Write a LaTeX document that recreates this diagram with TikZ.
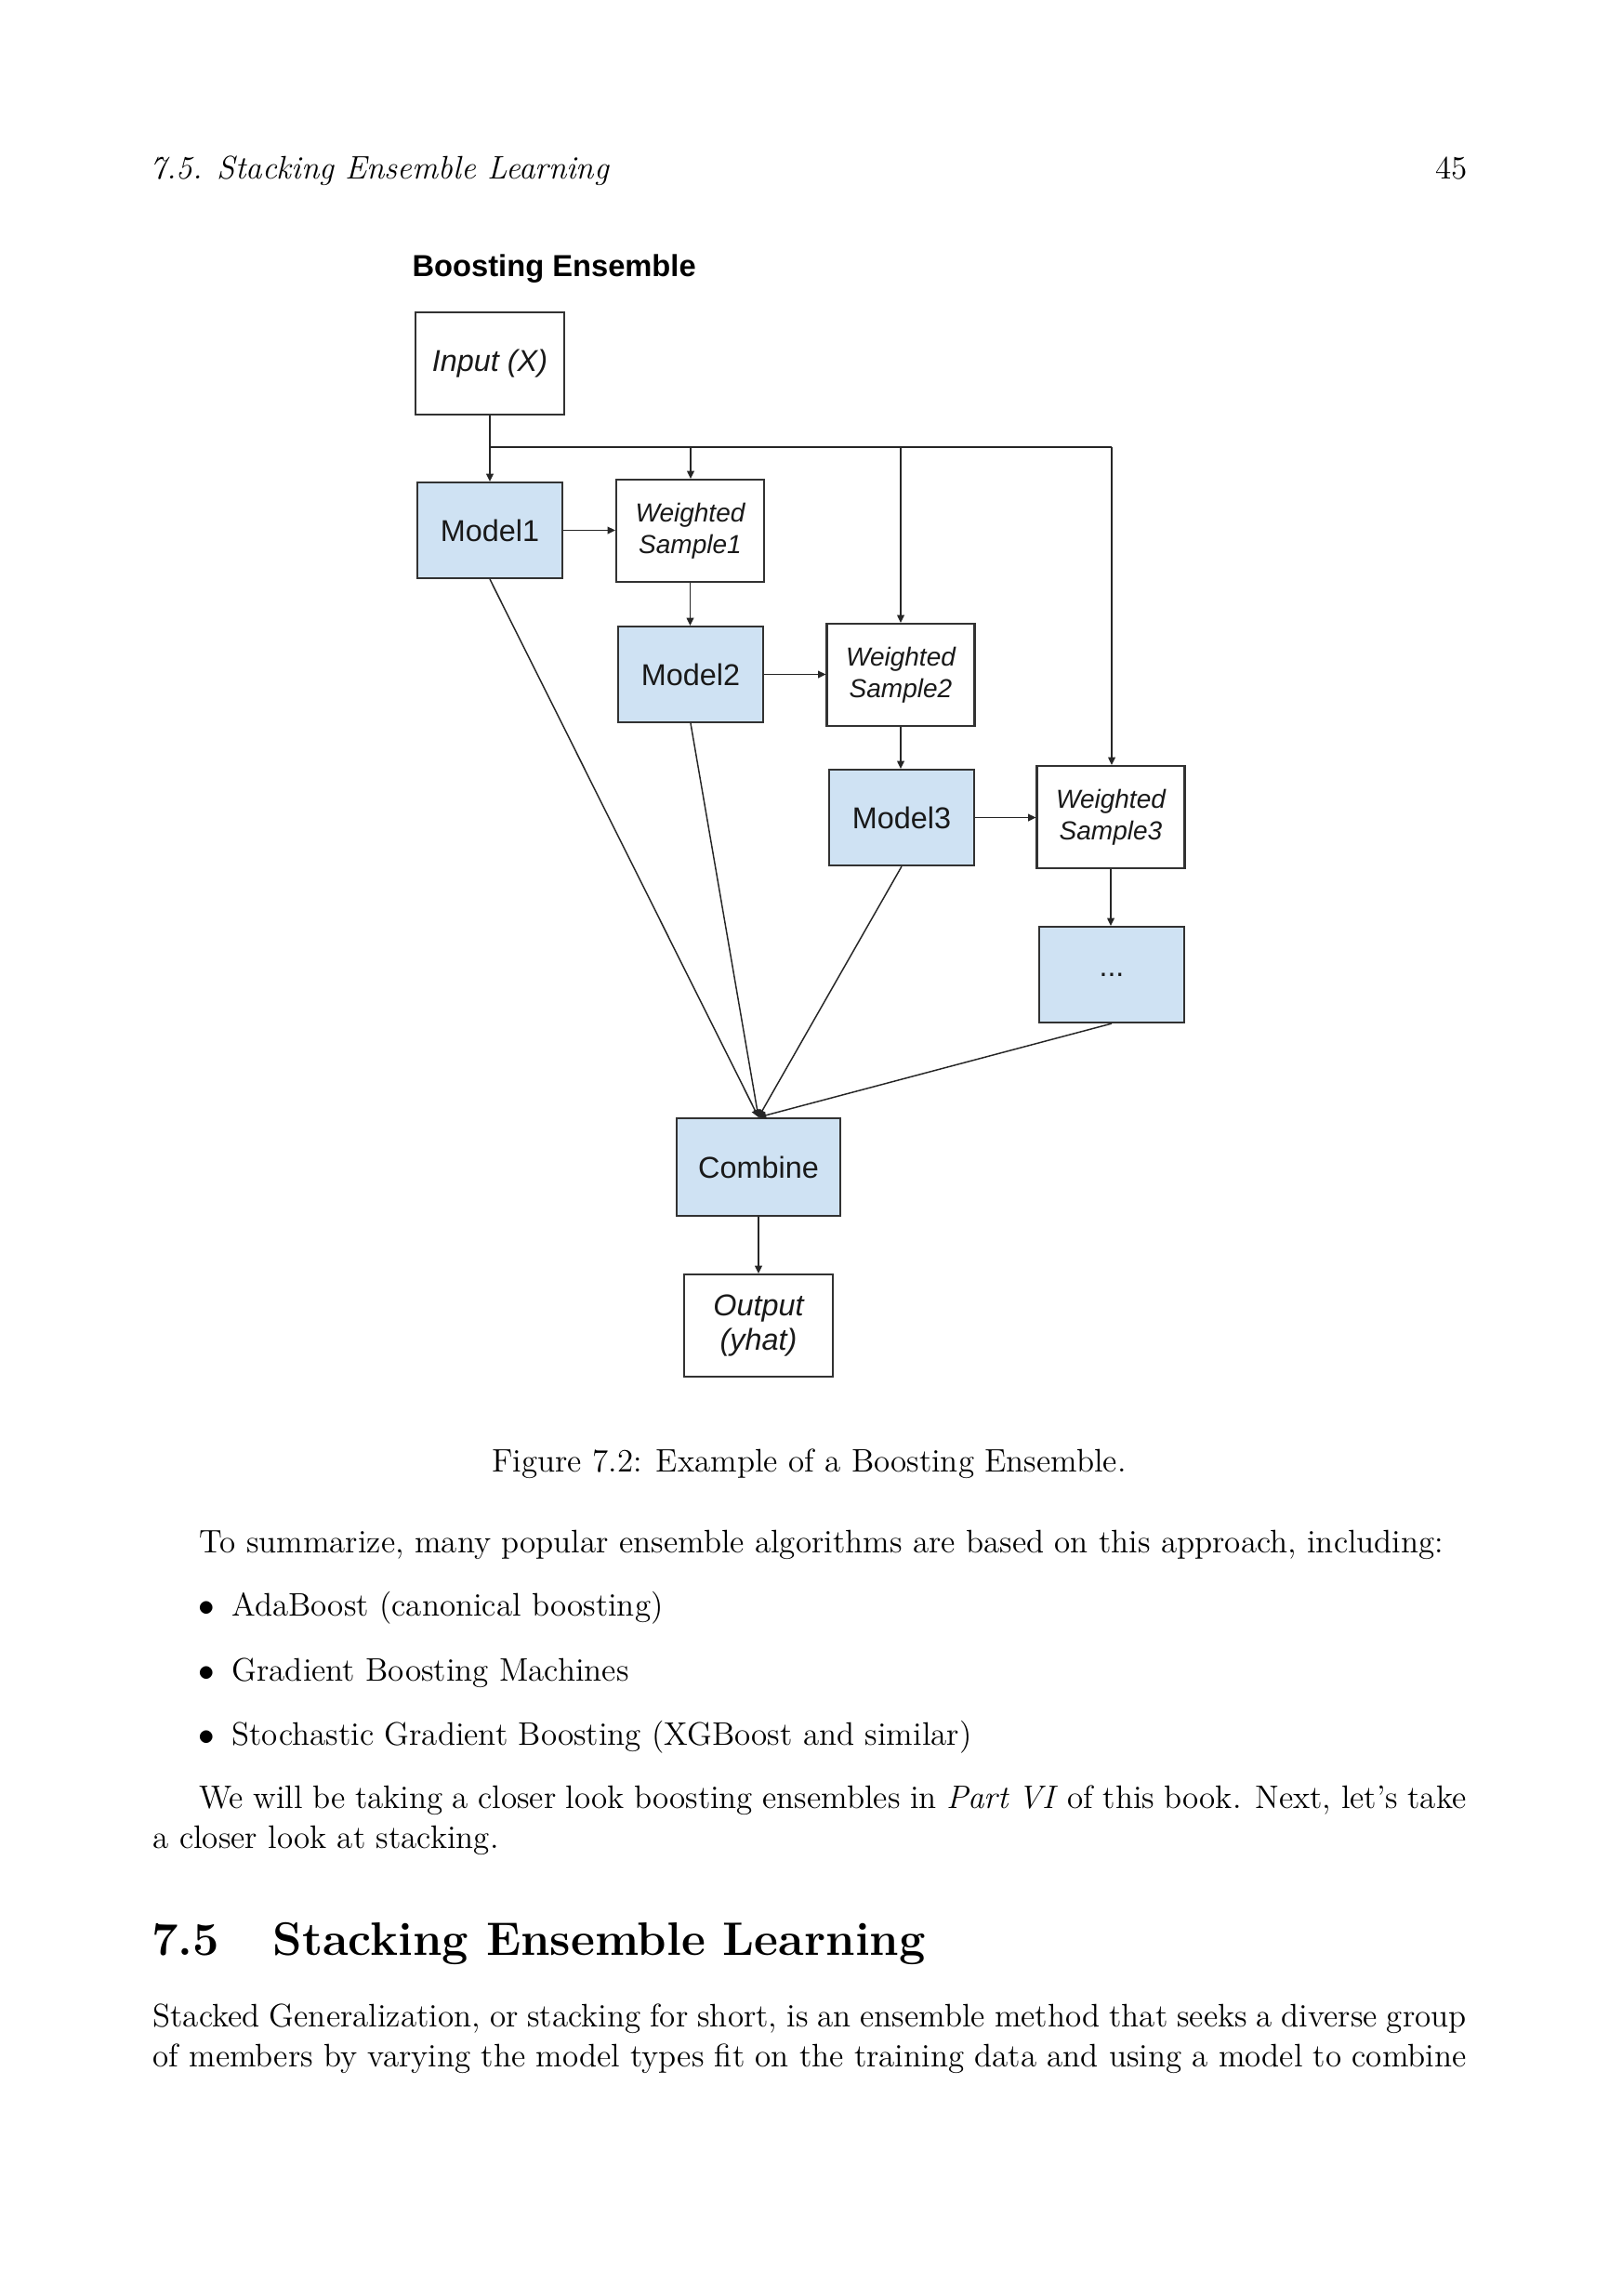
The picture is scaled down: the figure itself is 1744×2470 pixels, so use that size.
\documentclass[tikz,border=0pt]{standalone}
\usepackage{fontspec}
\newfontfamily\arial{Liberation Sans}
\usetikzlibrary{arrows.meta}
\definecolor{boxblue}{RGB}{207,226,243}
\definecolor{edge}{RGB}{50,50,50}
\def\u{0.34133bp}
\begin{document}
\begin{tikzpicture}[x=0.34133bp,y=-0.34133bp,
  box/.style={draw=edge, line width=0.75bp, inner sep=0pt, align=center, text=black!90,
    font=\arial\fontsize{11.1}{12.6}\selectfont},
  ibox/.style={box, font=\arial\itshape\fontsize{11.1}{12.6}\selectfont,
    minimum width=160*\u, minimum height=110*\u},
  mbox/.style={box, fill=boxblue, minimum width=156*\u, minimum height=103*\u},
  ws/.style={box, font=\arial\itshape\fontsize{9.6}{11.6}\selectfont,
    minimum width=159*\u, minimum height=110*\u},
  conn/.style={draw=black!85, line width=0.5bp, -{Triangle[length=2.8bp,width=2.6bp]}},
  ln/.style={draw=black!85, line width=0.5bp},
  body/.style={anchor=base west, inner sep=0pt, font=\fontsize{12}{14.5}\selectfont},
  sect/.style={anchor=base west, inner sep=0pt, font=\fontsize{17.28}{22}\selectfont\bfseries}
]
\fill[white] (0,0) rectangle (1744,2470);

% page header
\node[body] (hdr) at (161,192) {\itshape 7.5. Stacking Ensemble Learning};
\node[body, anchor=base east] (pg) at (1579,192) {45};

% diagram
\node[anchor=base west, inner sep=0pt, font=\arial\bfseries\fontsize{11.2}{13}\selectfont] (title) at (443,297) {Boosting Ensemble};
\node[ibox] (input) at (527,391) {Input (X)};
\node[mbox] (m1) at (527,570.5) {Model1};
\node[ws] (ws1) at (742.5,571) {Weighted\\Sample1};
\node[mbox] (m2) at (743,725.5) {Model2};
\node[ws] (ws2) at (969,726) {Weighted\\Sample2};
\node[mbox] (m3) at (970,879.5) {Model3};
\node[ws] (ws3) at (1195,879) {Weighted\\Sample3};
\node[mbox, font=\arial\fontsize{11}{12}\selectfont] (dots) at (1196,1048.5) {\raisebox{-1.5bp}{...}};
\node[mbox, minimum width=176*\u, minimum height=105*\u] (comb) at (816,1255.5) {Combine};
\node[ibox] (out) at (816,1426) {Output\\(yhat)};

\coordinate (b1) at (527,481);
\coordinate (b2) at (743,481);
\coordinate (b3) at (969,481);
\coordinate (b4) at (1196,481);

\draw[conn] (input.south) -- (m1.north);
\draw[ln] (b1) -- (b4);
\draw[conn] (b2) -- (b2 |- ws1.north);
\draw[conn] (b3) -- (b3 |- ws2.north);
\draw[conn] (b4) -- (b4 |- ws3.north);

\draw[conn] (m1.east) -- (m1.east -| ws1.west);
\draw[conn] (m2.east) -- (m2.east -| ws2.west);
\draw[conn] (m3.east) -- (m3.east -| ws3.west);

\draw[conn] (ws1.south) -- (ws1.south |- m2.north);
\draw[conn] (ws2.south) -- (ws2.south |- m3.north);
\draw[conn] (ws3.south) -- (ws3.south |- dots.north);

\draw[conn] (m1.south) -- (comb.north);
\draw[conn] (m2.south) -- (comb.north);
\draw[conn] (m3.south) -- (comb.north);
\draw[conn] (dots.south) -- (comb.north);
\draw[conn] (comb.south) -- (out.north);

% caption and text
\node[body, anchor=base] (cap) at (870.5,1583) {Figure 7.2: Example of a Boosting Ensemble.};
\node[body] (p1) at (214,1670) {To summarize, many popular ensemble algorithms are based on this approach, including:};
\node[body] (d1) at (213,1738) {$\bullet$};
\node[body] (i1) at (249,1738) {AdaBoost (canonical boosting)};
\node[body] (d2) at (213,1808) {$\bullet$};
\node[body] (i2) at (249,1808) {Gradient Boosting Machines};
\node[body] (d3) at (213,1877) {$\bullet$};
\node[body] (i3) at (249,1877) {Stochastic Gradient Boosting (XGBoost and similar)};
\node[body] (p2a) at (214,1945) {\hbox to 465.2bp{We will be taking a closer look boosting ensembles in \textit{Part VI} of this book. Next, let's take}};
\node[body] (p2b) at (164,1988) {a closer look at stacking.};
\node[sect] (secn) at (163,2103) {7.5};
\node[sect] (sect) at (293,2103) {Stacking Ensemble Learning};
\node[body] (p3a) at (164,2180) {\hbox to 482.3bp{Stacked Generalization, or stacking for short, is an ensemble method that seeks a diverse group}};
\node[body] (p3b) at (164,2223) {\hbox to 482.3bp{of members by varying the model types fit on the training data and using a model to combine}};
\end{tikzpicture}
\end{document}
